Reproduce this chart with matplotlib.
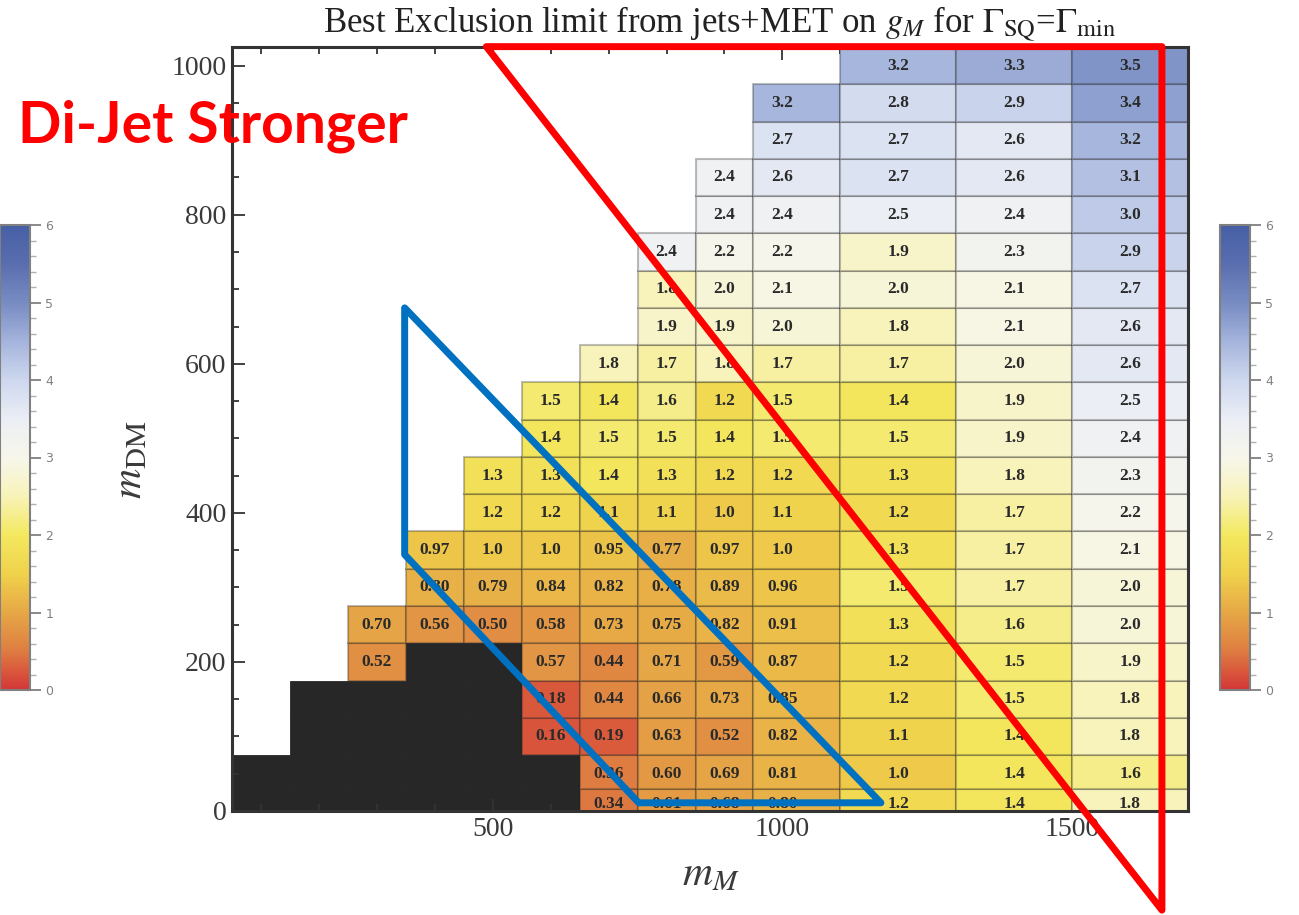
import numpy as np
import matplotlib
matplotlib.use("Agg")
import matplotlib.pyplot as plt
from matplotlib.colors import LinearSegmentedColormap, Normalize
from matplotlib.ticker import MultipleLocator
from matplotlib.colorbar import ColorbarBase

plt.rcParams['font.family'] = ['Liberation Serif', 'DejaVu Serif']
plt.rcParams['mathtext.fontset'] = 'stix'

# scan points: mediator mass (columns) and dark-matter mass (rows)
m_M = [100, 200, 300, 400, 500, 600, 700, 800, 900, 1000, 1200, 1400, 1600]
m_DM = [10] + list(range(50, 1001, 50))

# highest m_DM that is shaded black (no valid point) in each m_M column
excluded_top = {100: 50, 200: 150, 300: 150, 400: 200, 500: 200, 600: 50}

# best g_M limit per column, listed upward from the first row above the black region
g_300 = [0.52, 0.70]
g_400 = [0.56, 0.80, 0.97]
g_500 = [0.50, 0.79, 1.0, 1.2, 1.3]
g_600 = [0.16, 0.18, 0.57, 0.58, 0.84, 1.0, 1.2, 1.3, 1.4, 1.5]
g_700 = [0.34, 0.36, 0.19, 0.44, 0.44, 0.73, 0.82, 0.95, 1.1, 1.4, 1.5, 1.4, 1.8]
g_800 = [0.61, 0.60, 0.63, 0.66, 0.71, 0.75, 0.78, 0.77, 1.1, 1.3, 1.5, 1.6,
         1.7, 1.9, 1.8, 2.4]
g_900 = [0.68, 0.69, 0.52, 0.73, 0.59, 0.82, 0.89, 0.97, 1.0, 1.2, 1.4, 1.2,
         1.8, 1.9, 2.0, 2.2, 2.4, 2.4]
g_1000 = [0.80, 0.81, 0.82, 0.85, 0.87, 0.91, 0.96, 1.0, 1.1, 1.2, 1.5, 1.5,
          1.7, 2.0, 2.1, 2.2, 2.4, 2.6, 2.7, 3.2]
g_1200 = [1.2, 1.0, 1.1, 1.2, 1.2, 1.3, 1.5, 1.3, 1.2, 1.3, 1.5, 1.4, 1.7,
          1.8, 2.0, 1.9, 2.5, 2.7, 2.7, 2.8, 3.2]
g_1400 = [1.4, 1.4, 1.4, 1.5, 1.5, 1.6, 1.7, 1.7, 1.7, 1.8, 1.9, 1.9, 2.0,
          2.1, 2.1, 2.3, 2.4, 2.6, 2.6, 2.9, 3.3]
g_1600 = [1.8, 1.6, 1.8, 1.8, 1.9, 2.0, 2.0, 2.1, 2.2, 2.3, 2.4, 2.5, 2.6,
          2.6, 2.7, 2.9, 3.0, 3.1, 3.2, 3.4, 3.5]

limits = {300: g_300, 400: g_400, 500: g_500, 600: g_600, 700: g_700,
          800: g_800, 900: g_900, 1000: g_1000, 1200: g_1200, 1400: g_1400,
          1600: g_1600}

colorbar_ticks = [0, 1, 2, 3, 4, 5, 6]

# temperature-style palette, red (weak limit) to blue
palette = LinearSegmentedColormap.from_list("temp", [
    (0.000, "#d43737"), (0.083, "#de7d41"), (0.167, "#e6a846"),
    (0.250, "#f0d24b"), (0.333, "#f3e85f"), (0.417, "#f8f3b9"),
    (0.500, "#f7f6eb"), (0.583, "#ebeef5"), (0.667, "#cdd7ee"),
    (0.750, "#a5b4dc"), (0.833, "#788cc3"), (0.917, "#5a6eaf"),
    (1.000, "#465fa5")])
cell_norm = Normalize(0, 4.3)
bar_norm = Normalize(0, 6)


def cell_edges(c):
    c = np.asarray(c, float)
    mid = (c[1:] + c[:-1]) / 2
    return np.concatenate([[c[0] - (c[1] - c[0]) / 2], mid,
                           [c[-1] + (c[-1] - c[-2]) / 2]])


x_edges = cell_edges(m_M)
y_edges = cell_edges(m_DM)

fig = plt.figure(figsize=(12.99, 9.15), dpi=100)
ax = fig.add_axes([232 / 1299, 1 - 811 / 915, 956 / 1299, 764 / 915])

for i, mm in enumerate(m_M):
    x0, x1 = x_edges[i], x_edges[i + 1]
    top_black = excluded_top.get(mm, -1)
    vals = limits.get(mm, [])
    k = 0
    for j, md in enumerate(m_DM):
        y0, y1 = y_edges[j], y_edges[j + 1]
        if md <= top_black:
            ax.bar(x0, y1 - y0, width=x1 - x0, bottom=y0, align='edge',
                   color="#272727", edgecolor="#272727", linewidth=0.6, zorder=1)
            continue
        if k >= len(vals):
            continue
        v = vals[k]
        k += 1
        ax.bar(x0, y1 - y0, width=x1 - x0, bottom=y0, align='edge',
               color=palette(cell_norm(v)), edgecolor=(0.15, 0.15, 0.15, 0.30),
               linewidth=1.5, zorder=2)
        txt = f"{v:.2f}" if v < 1 else f"{v:.1f}"
        ax.text(mm, md, txt, ha='center', va='center', fontsize=12.5,
                fontweight='bold', color="#2a2a2a", zorder=3)

ax.set_xlim(x_edges[0], x_edges[-1])
ax.set_ylim(0, y_edges[-1])
ax.xaxis.set_major_locator(MultipleLocator(500))
ax.xaxis.set_minor_locator(MultipleLocator(100))
ax.yaxis.set_major_locator(MultipleLocator(200))
ax.yaxis.set_minor_locator(MultipleLocator(50))
ax.tick_params(which='both', direction='in', top=True, right=True,
               color="#333333", width=1.3)
ax.tick_params(which='major', length=9, labelsize=20, labelcolor="#3a3a3a", pad=4)
ax.tick_params(which='minor', length=5)
for s in ax.spines.values():
    s.set_color("#333333")
    s.set_linewidth(2.2)

ax.set_xlabel(r"$m_M$", fontsize=30, color="#3a3a3a")
ax.xaxis.set_label_coords(0.501, -0.058)
ax.set_ylabel(r"$m_{\mathrm{DM}}$", fontsize=30, color="#3a3a3a")
ax.yaxis.set_label_coords(-0.085, 0.46)

fig.text(719 / 1299, 1 - 24 / 915,
         r"Best Exclusion limit from jets+MET on $g_M$ for $\Gamma_{\mathrm{SQ}}$=$\Gamma_{\mathrm{min}}$",
         ha='center', va='center', fontsize=25, color="#222222")

# highlighted regions
red_tri = [(489, 1025.5), (1655, 1025.5), (1655, -133)]
ax.add_patch(plt.Polygon(red_tri, closed=True, fill=False, edgecolor="#ff0000",
                         linewidth=5, joinstyle='round', clip_on=False, zorder=6))
blue_quad = [(348, 675), (348, 344), (752, 11), (1170, 11)]
ax.add_patch(plt.Polygon(blue_quad, closed=True, fill=False, edgecolor="#0070c0",
                         linewidth=5, joinstyle='round', clip_on=False, zorder=6))

fig.text(18 / 1299, 1 - 126 / 915, "Di-Jet Stronger", ha='left', va='center',
         fontsize=41, fontweight='bold', color="#ff0000", family='Lato')

# colour scales on both sides
for left in (0 / 1299, 1220 / 1299):
    cax = fig.add_axes([left, 1 - 690 / 915, 30 / 1299, 465 / 915])
    cb = ColorbarBase(cax, cmap=palette, norm=bar_norm, ticks=colorbar_ticks)
    cb.outline.set_edgecolor("#808080")
    cb.outline.set_linewidth(1.5)
    cax.yaxis.set_minor_locator(MultipleLocator(0.2))
    cax.tick_params(which='major', length=8, width=1.3, color="#808080",
                    labelsize=9, labelcolor="#808080", pad=3)
    cax.tick_params(which='minor', length=4, width=1.0, color="#b0b0b0")
    for lab in cax.get_yticklabels():
        lab.set_family('DejaVu Sans')

fig.savefig("out.png", dpi=100)
